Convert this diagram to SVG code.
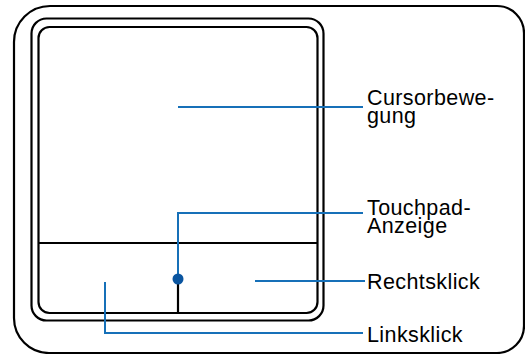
<svg xmlns="http://www.w3.org/2000/svg" width="525" height="354" viewBox="0 0 525 354">
<style>
.k{fill:none;stroke:#000;stroke-width:2.2}
.b{fill:none;stroke:#1670b8;stroke-width:2}
.t{font-family:"Liberation Sans",Arial,sans-serif;font-size:21.5px;letter-spacing:0.4px;fill:#000}
</style>
<rect width="525" height="354" fill="#fff"/>
<g id="frame">
<path class="k" d="M50,6 H497 A27,27 0 0 1 524,33 V326 A27,27 0 0 1 497,353 H49 A35,35 0 0 1 14,318 V42 A36,36 0 0 1 50,6 Z"/>
</g>
<g id="touchpad">
<rect class="k" x="31.5" y="18.5" width="292" height="302" rx="15"/>
<rect class="k" x="38.5" y="27" width="279" height="286" rx="11"/>
<line class="k" x1="38.5" y1="243" x2="317.5" y2="243"/>
<line class="k" x1="178" y1="279" x2="178" y2="313"/>
</g>
<g id="connectors">
<polyline class="b" points="178,107 363,107"/>
<polyline class="b" points="178,279 178,213 363,213"/>
<polyline class="b" points="255,281 365,281"/>
<polyline class="b" points="105,282 105,333 363,333"/>
<circle cx="178" cy="279" r="5.5" fill="#0a55a0"/>
</g>
<g id="labels">
<text class="t" x="367" y="105">Cursorbewe-</text>
<text class="t" x="367" y="123">gung</text>
<text class="t" x="367" y="215">Touchpad-</text>
<text class="t" x="367" y="233">Anzeige</text>
<text class="t" x="367" y="289">Rechtsklick</text>
<text class="t" x="367" y="342">Linksklick</text>
</g>
</svg>
